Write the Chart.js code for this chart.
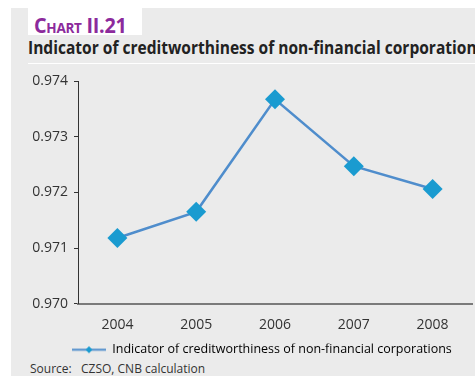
<!DOCTYPE html>
<html>
<head>
<meta charset="utf-8">
<script src="https://cdn.jsdelivr.net/npm/chart.js@4.4.0/dist/chart.umd.min.js"></script>
<style>
  html, body { margin: 0; padding: 0; background: #fff; }
  body { width: 475px; height: 376px; position: relative; overflow: hidden; font-family: "Open Sans", sans-serif; }
  #panel { position: absolute; left: 11px; top: 8px; width: 464px; height: 368px; background: #ebebeb; }
  #tag { position: absolute; left: 28px; top: 8px; width: 114px; height: 27px; background: #fff; }
  #tag span { position: absolute; left: 6px; top: 1px; color: #8c2a9c; font-weight: bold; font-size: 22px;
              font-variant: small-caps; transform: scaleX(0.9); transform-origin: left; white-space: nowrap; letter-spacing: -0.3px; }
  #title { position: absolute; left: 28px; top: 34px; color: #222; font-weight: bold; font-size: 18.5px;
           transform: scaleX(0.84); transform-origin: left; white-space: nowrap; }
  #rule { position: absolute; left: 28px; top: 63px; width: 447px; height: 1px; background: #fff; }
  #source { position: absolute; left: 30px; top: 360px; color: #333; font-size: 12px; white-space: nowrap; }
  #source b { font-weight: normal; display: inline-block; width: 51px; }
  #wrap { position: absolute; left: 0; top: 0; width: 475px; height: 376px; }
</style>
</head>
<body>
<div id="panel"></div>
<div id="tag"><span>Chart II.21</span></div>
<div id="title">Indicator of creditworthiness of non-financial corporations</div>
<div id="rule"></div>
<div id="source"><b>Source:</b>CZSO, CNB calculation</div>
<div id="wrap"><canvas id="chart" width="475" height="376"></canvas></div>
<script>
// ── Data ─────────────────────────────────

const years = ['2004', '2005', '2006', '2007', '2008'];
const indicator = [0.97118, 0.97165, 0.97367, 0.97247, 0.97206];
const yTicks = [0.970, 0.971, 0.972, 0.973, 0.974];
const seriesName = 'Indicator of creditworthiness of non-financial corporations';

const LINE = '#4f8dcc';
const MARK = '#1a9bd0';

// ── Legend icon: short line with a small diamond ──

function legendIcon() {
  const c = document.createElement('canvas');
  c.width = 34; c.height = 9;
  const g = c.getContext('2d');
  g.strokeStyle = LINE;
  g.lineWidth = 2;
  g.beginPath(); g.moveTo(0, 4.5); g.lineTo(34, 4.5); g.stroke();
  g.fillStyle = MARK;
  g.beginPath();
  g.moveTo(17, 1); g.lineTo(20.5, 4.5); g.lineTo(17, 8); g.lineTo(13.5, 4.5);
  g.closePath(); g.fill();
  return c;
}

// legend sits a little right of centre and tucked up under the year labels
const legendShift = {
  id: 'legendShift',
  afterLayout(ch) {
    ch.legend.left = 72 - ch.legend.options.labels.padding;
    ch.legend.right = 475;
    ch.legend.top -= 3;
  }
};

// ── Chart Setup ──────────────────────────

const ctx = document.getElementById('chart').getContext('2d');
const chart = new Chart(ctx, {
  type: 'line',
  data: {
    labels: years,
    datasets: [{
      label: seriesName,
      data: indicator,
      borderColor: LINE,
      borderWidth: 2.5,
      backgroundColor: MARK,
      pointStyle: 'rectRot',
      pointRadius: 10,
      pointBorderWidth: 0,
      pointBackgroundColor: MARK,
      tension: 0,
      fill: false
    }]
  },
  options: {
    responsive: false,
    animation: false,
    layout: { autoPadding: false, padding: { top: 81, right: 3, left: 0, bottom: 7 } },
    plugins: {
      tooltip: { enabled: false },
      legend: {
        position: 'bottom',
        align: 'start',
        labels: {
          usePointStyle: true,
          pointStyleWidth: 34,
          color: '#333',
          font: { family: 'Open Sans', size: 12.5 },
          padding: 0,
          generateLabels: () => [{
            text: seriesName,
            pointStyle: legendIcon(),
            fillStyle: MARK,
            strokeStyle: LINE,
            lineWidth: 0,
            datasetIndex: 0
          }]
        }
      }
    },
    scales: {
      x: {
        offset: true,
        // year labels sit inside their bands, so no extra side room is needed
        afterFit: (axis) => { axis.paddingLeft = 0; axis.paddingRight = 0; },
        grid: { display: false, drawTicks: false },
        border: { color: '#7a7a7a', width: 2 },
        ticks: { color: '#333', font: { family: 'Open Sans', size: 14 }, padding: 13 }
      },
      y: {
        min: 0.970,
        max: 0.974,
        afterBuildTicks: (axis) => { axis.ticks = yTicks.map(v => ({ value: v })); },
        afterFit: (axis) => { axis.width = 78; },
        grid: { display: true, drawOnChartArea: false, tickLength: 4, color: '#333' },
        border: { color: '#333', width: 1 },
        ticks: {
          color: '#333',
          font: { family: 'Open Sans', size: 14 },
          padding: 6,
          callback: (v) => v.toFixed(3)
        }
      }
    }
  },
  plugins: [legendShift]
});
</script>
</body>
</html>
